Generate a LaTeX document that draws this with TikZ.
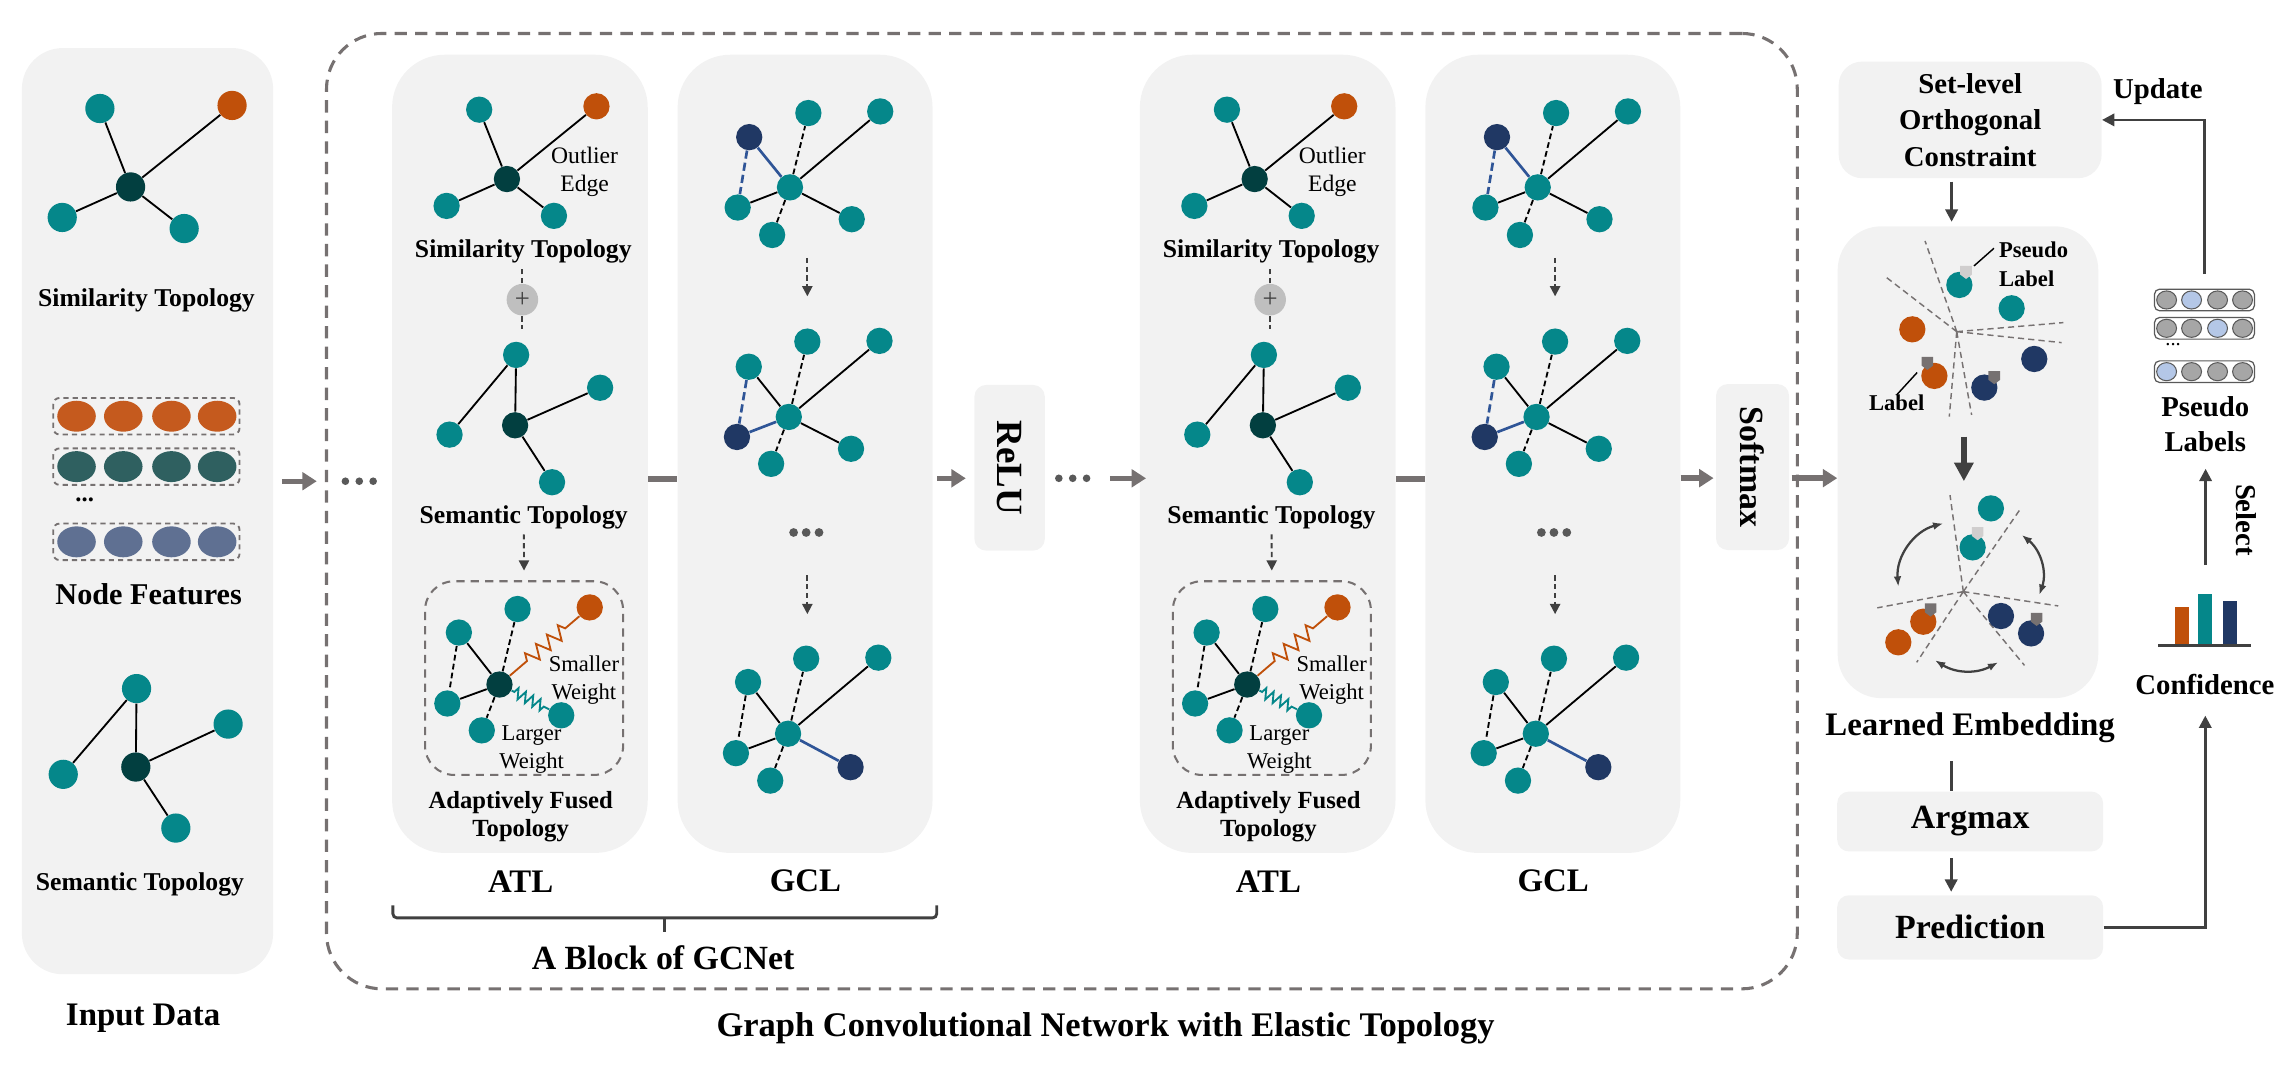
\documentclass[tikz,border=0pt]{standalone}
\usepackage{fontspec}
\setmainfont{Liberation Serif}
\usetikzlibrary{arrows.meta,decorations.pathmorphing,calc}

\definecolor{tealc}{HTML}{05878A}
\definecolor{darkc}{HTML}{023F40}
\definecolor{orangec}{HTML}{C0500A}
\definecolor{navyc}{HTML}{203864}
\definecolor{bluee}{HTML}{2F5597}
\definecolor{panelc}{HTML}{F2F2F2}
\definecolor{dgray}{HTML}{767171}
\definecolor{agray}{HTML}{404040}
\definecolor{pgray}{HTML}{BFBFBF}
\definecolor{dotc}{HTML}{595959}
\definecolor{forange}{HTML}{C55A1E}
\definecolor{fteal}{HTML}{2F6060}
\definecolor{fslate}{HTML}{5F7092}
\definecolor{lblue}{HTML}{B4C7E7}
\definecolor{cgray}{HTML}{A6A6A6}
\definecolor{lmark}{HTML}{D0CECE}

\newcommand\fsz[2]{\fontsize{#1}{#2}\selectfont}

\tikzset{
  gnode/.style={circle, inner sep=0pt, minimum size=0.45cm},
  tnode/.style={gnode, fill=tealc},
  cnode/.style={gnode, fill=darkc},
  onode/.style={gnode, fill=orangec},
  nnode/.style={gnode, fill=navyc},
  eline/.style={line width=0.9pt},
  dline/.style={line width=0.9pt, dash pattern=on 2.8pt off 1.6pt},
  bline/.style={line width=1.3pt, bluee},
  bdline/.style={line width=1.3pt, bluee, dash pattern=on 4pt off 2pt},
  zig/.style={line width=0.9pt, decorate},
  panel/.style={fill=panelc, rounded corners=0.9cm, inner sep=0pt},
  rbox/.style={fill=panelc, rounded corners=0.2cm, inner sep=0pt},
  fusebox/.style={draw=dgray, line width=1pt, dash pattern=on 4pt off 3pt, rounded corners=0.5cm, inner sep=0pt},
  tlab/.style={font=\bfseries\fsz{12.5}{15}, inner sep=0pt},
  blab/.style={font=\bfseries\fsz{16}{19}, inner sep=0pt},
  rlab/.style={font=\bfseries\fsz{14}{17.5}, inner sep=0pt, align=center},
  garrow/.style={line width=2.6pt, dgray, -{Triangle[length=7pt,width=8.5pt]}},
  gline/.style={line width=2.6pt, dgray},
  darrow/.style={line width=1.3pt, agray, -{Triangle[length=6pt,width=6pt]}},
  dsarrow/.style={line width=0.9pt, agray, dash pattern=on 2.5pt off 1.8pt, -{Triangle[length=5pt,width=5pt]}},
  sdash/.style={line width=0.7pt, dgray, dash pattern=on 3pt off 2pt},
  carrow/.style={line width=1.1pt, agray, {Latex[length=5pt]}-{Latex[length=5pt]}},
  leader/.style={line width=0.7pt, black},
  pcirc/.style={draw=dotc, line width=0.5pt},
  prow/.style={draw=dotc, fill=white, line width=0.6pt, rounded corners=2.5pt, minimum width=1.71cm, minimum height=0.37cm},
  tagm/.pic={\fill[#1] (-4,-4.5) -- (4,-4.5) -- (4,1.5) -- (0,4.5) -- (-4,1.5) -- cycle;}
}

\begin{document}
\begin{tikzpicture}[x=0.025cm, y=-0.025cm]
\useasboundingbox (0,0) rectangle (1568,741);

% input data
\node[panel, rounded corners=0.7cm, minimum width=4.3cm, minimum height=15.85cm] (inp) at (101,350) {};
\node[cnode, minimum size=0.5cm] (ic) at (89.4,128) {};
\node[tnode, minimum size=0.5cm] (ia) at (68.4,74.3) {};
\node[onode, minimum size=0.5cm] (io) at (158.9,72.2) {};
\node[tnode, minimum size=0.5cm] (ib) at (42.6,148.9) {};
\node[tnode, minimum size=0.5cm] (id) at (126.1,156.5) {};
\draw[eline] (ic) -- (ia) (ic) -- (io) (ic) -- (ib) (ic) -- (id);
\node[tlab] (ist) at (100.3,205.5) {Similarity Topology};
\foreach \y/\c in {285/forange, 319.5/fteal, 371/fslate}{
  \draw[dgray, line width=0.9pt, dash pattern=on 2.5pt off 2pt, rounded corners=3pt] (36.5,\y-12.5) rectangle (164,\y+12.5);
  \foreach \x in {52.4,84.4,117.4,148.7}
    \fill[\c] (\x,\y) ellipse (0.33cm and 0.265cm);
}
\node[font=\bfseries\fsz{12}{12}] (idt) at (58,342) {...};
\node[font=\bfseries\fsz{14.7}{17}, inner sep=0pt] (inf) at (101.8,406.6) {Node Features};
\node[cnode, minimum size=0.5cm] (jc) at (93,525.2) {};
\node[tnode, minimum size=0.5cm] (ja) at (93.5,471.5) {};
\node[tnode, minimum size=0.5cm] (jb) at (156.2,495.8) {};
\node[tnode, minimum size=0.5cm] (jd) at (43.3,530.2) {};
\node[tnode, minimum size=0.5cm] (je) at (120.4,567) {};
\draw[eline] (ja) -- (jd) (ja) -- (jc) (jc) -- (jb) (jc) -- (je);
\node[tlab] (iss) at (95.8,605.6) {Semantic Topology};
\node[blab] (ind) at (98,697) {Input Data};

% network
\node[draw=dgray, line width=1.5pt, dash pattern=on 6pt off 4pt, rounded corners=0.95cm, inner sep=0pt,
  minimum width=25.17cm, minimum height=16.35cm] (gcn) at (727.1,350) {};
\node[font=\bfseries\fsz{16.8}{19}, inner sep=0pt] (gtt) at (757,704) {Graph Convolutional Network with Elastic Topology};
\draw[garrow, shorten <=4pt, shorten >=4pt] (inp.east |- 0,329.5) -- (gcn.west |- 0,329.5);
\foreach \x in {236.5,246,255.5} \fill[dotc] (\x,329.5) circle (0.065cm);

\foreach \dx/\k in {0/1,512/2}{
\begin{scope}[shift={(\dx,0)}]
  \node[panel, minimum width=4.375cm, minimum height=13.66cm] (atl\k) at (356,310.75) {};
  \node[panel, minimum width=4.3625cm, minimum height=13.66cm] (gcl\k) at (551.25,310.75) {};
  \draw[gline] (atl\k.east |- 0,328) -- (gcl\k.west |- 0,328);
  % ATL
  \node[cnode] (sc\k) at (347.1,122.6) {};
  \node[tnode] (sa\k) at (328.1,75.1) {};
  \node[onode] (so\k) at (408.4,72.8) {};
  \node[tnode] (sb\k) at (305.8,141) {};
  \node[tnode] (sd\k) at (379.3,147.8) {};
  \draw[eline] (sc\k) -- (sa\k) (sc\k) -- (so\k) (sc\k) -- (sb\k) (sc\k) -- (sd\k);
  \node[font=\fsz{11.5}{13.8}, align=center, inner sep=0pt] (oe\k) at (400.3,117.5) {Outlier\\Edge};
  \node[tlab] (stt\k) at (358.3,172.4) {Similarity Topology};
  \node[circle, fill=pgray, inner sep=0pt, minimum size=0.54cm, text=agray, font=\fsz{13}{13}] (pl\k) at (357.7,205.2) {+};
  \draw[dline, agray] (pl\k.north) -- ++(0,-10);
  \draw[dline, agray] (pl\k.south) -- ++(0,9);
  \node[cnode] (mc\k) at (352.7,291.2) {};
  \node[tnode] (ma\k) at (353.4,243) {};
  \node[tnode] (mb\k) at (410.9,265.5) {};
  \node[tnode] (md\k) at (307.8,297.6) {};
  \node[tnode] (me\k) at (378,330.2) {};
  \draw[eline] (ma\k) -- (md\k) (ma\k) -- (mc\k) (mc\k) -- (mb\k) (mc\k) -- (me\k);
  \node[tlab] (smt\k) at (358.6,354.3) {Semantic Topology};
  \node[fusebox, minimum width=3.39cm, minimum height=3.315cm] (fb\k) at (358.85,464.3) {};
  \draw[dsarrow, shorten <=2.3pt, shorten >=4.7pt] (smt\k) -- (fb\k.north);
  \node[cnode] (fc\k) at (342,468.7) {};
  \node[tnode] (fa\k) at (354.4,417) {};
  \node[onode] (fo\k) at (403.8,415.9) {};
  \node[tnode] (fd\k) at (314.2,433.1) {};
  \node[tnode] (fe\k) at (306.3,481.7) {};
  \node[tnode] (ff\k) at (329.9,500.1) {};
  \node[tnode] (fg\k) at (384.3,489.8) {};
  \draw[eline] (fc\k) -- (fd\k) (fc\k) -- (fe\k);
  \draw[dline] (fc\k) -- (fa\k) (fc\k) -- (ff\k) (fd\k) -- (fe\k);
  \draw[zig, orangec, decoration={zigzag, segment length=7pt, amplitude=3.5pt, pre length=11pt, post length=6pt}] (fc\k) -- (fo\k);
  \draw[zig, tealc, decoration={zigzag, segment length=4pt, amplitude=2.6pt, pre length=1.5pt, post length=2pt}] (fc\k) -- (fg\k);
  \node[font=\fsz{11}{13.5}, align=center, inner sep=0pt] (sw\k) at (399.8,465.5) {Smaller\\Weight};
  \node[font=\fsz{11}{13.5}, align=center, inner sep=0pt] (lw\k) at (364,513.4) {Larger\\Weight};
  \node[font=\bfseries\fsz{12}{13.4}, align=center, inner sep=0pt] (aft\k) at (356.5,559.1) {Adaptively Fused\\Topology};
  \node[blab] (atx\k) at (356.5,604) {ATL};
  % GCL
  \node[tnode] (ac\k) at (540.9,128.3) {};
  \node[nnode] (an\k) at (513,93.9) {};
  \node[tnode] (aa\k) at (553.5,77.4) {};
  \node[tnode] (ab\k) at (602.7,76.3) {};
  \node[tnode] (ad\k) at (505.1,142.1) {};
  \node[tnode] (ae\k) at (528.7,160.9) {};
  \node[tnode] (af\k) at (583.2,150.1) {};
  \draw[bline] (an\k) -- (ac\k);
  \draw[bdline] (an\k) -- (ad\k);
  \draw[eline] (ad\k) -- (ac\k) (ac\k) -- (ab\k) (ac\k) -- (af\k);
  \draw[dline] (ac\k) -- (aa\k) (ac\k) -- (ae\k);
  \coordinate (ua\k) at (552.8,176.5);
  \draw[dsarrow] (ua\k) -- ++(0,26.4);
  \node[tnode] (bc\k) at (540.1,285.5) {};
  \node[tnode] (ba\k) at (552.8,233.9) {};
  \node[tnode] (bb\k) at (602.2,233.4) {};
  \node[tnode] (bd\k) at (512.7,251.1) {};
  \node[nnode] (bn\k) at (504.6,299.2) {};
  \node[tnode] (be\k) at (528,317.6) {};
  \node[tnode] (bf\k) at (582.7,307.3) {};
  \draw[eline] (bd\k) -- (bc\k) (bc\k) -- (bb\k) (bc\k) -- (bf\k);
  \draw[dline] (bc\k) -- (ba\k) (bc\k) -- (be\k);
  \draw[bdline] (bd\k) -- (bn\k);
  \draw[bline] (bn\k) -- (bc\k);
  \foreach \x in {543.4,552,560.8} \fill[dotc] (\x,364.6) circle (0.075cm);
  \coordinate (ub\k) at (552.8,394);
  \draw[dsarrow] (ub\k) -- ++(0,26.5);
  \node[tnode] (cc\k) at (539.6,502.4) {};
  \node[tnode] (ca\k) at (552,451) {};
  \node[tnode] (cb\k) at (601.4,450.3) {};
  \node[tnode] (cd\k) at (512.2,467) {};
  \node[tnode] (ce\k) at (503.9,515.7) {};
  \node[tnode] (cf\k) at (527.4,534.5) {};
  \node[nnode] (cn\k) at (582.4,525.3) {};
  \draw[eline] (cd\k) -- (cc\k) (ce\k) -- (cc\k) (cc\k) -- (cb\k);
  \draw[dline] (cd\k) -- (ce\k) (cc\k) -- (ca\k) (cc\k) -- (cf\k);
  \draw[bline] (cc\k) -- (cn\k);
  \node[blab] (gtx\k) at (551.5,603) {GCL};
\end{scope}
}

\draw[agray, line width=1.4pt, rounded corners=2pt] (269,620) -- (269,628.5) -- (641.4,628.5) -- (641.4,620);
\draw[agray, line width=1.4pt] (454.7,628.5) -- (454.7,638.4);
\node[font=\bfseries\fsz{16.5}{19}, inner sep=0pt] (blk) at (454,656) {A Block of GCNet};

\node[rbox, minimum width=1.205cm, minimum height=2.835cm, font=\bfseries\fsz{18}{20}] (relu) at (691.3,320.3) {\rotatebox{-90}{ReLU}};
\node[rbox, minimum width=1.25cm, minimum height=2.84cm, font=\bfseries\fsz{16.5}{19}] (smx) at (1200,319.8) {\rotatebox{-90}{Softmax}};
\draw[garrow, shorten <=2pt, shorten >=4pt] (gcl1.east |- 0,327.5) -- (relu.west |- 0,327.5);
\foreach \x in {725,734.5,744} \fill[dotc] (\x,327.5) circle (0.065cm);
\coordinate (rd) at (760,327.5);
\draw[garrow] (rd) -- ($(atl2.west |- rd)+(4.5,0)$);
\draw[garrow, shorten >=1pt] (gcl2.east |- 0,327.4) -- (smx.west |- 0,327.4);

% right side
\node[rbox, rounded corners=0.4cm, minimum width=4.5cm, minimum height=1.995cm, font=\bfseries\fsz{14}{17.8}, align=center] (slc) at (1349,82.1) {Set-level\\Orthogonal\\Constraint};
\node[panel, rounded corners=0.75cm, minimum width=4.46cm, minimum height=8.075cm] (le) at (1347.5,316.5) {};
\draw[garrow, shorten <=1pt] (smx.east |- 0,327.4) -- (le.west |- 0,327.4);
\draw[darrow, shorten <=1.5pt, shorten >=2pt] ($(slc.south)+(-12.7,0)$) -- ($(le.north)+(-11.2,0)$);

\coordinate (ka) at (1339.8,227.1);
\draw[sdash] (ka) -- (1318.1,165) (ka) -- (1290,188.7) (ka) -- (1412.8,220.9) (ka) -- (1411.6,234.6) (ka) -- (1334.7,285.3) (ka) -- (1350,284.1);
\node[tnode] (ea) at (1341.6,195.1) {};
\node[tnode] (eb) at (1377.4,211.1) {};
\node[onode] (ec) at (1309.4,225.5) {};
\node[onode] (ed) at (1324.5,257.4) {};
\node[nnode] (ee) at (1392.9,245.8) {};
\node[nnode] (ef) at (1358.7,265.4) {};
\pic at (1346.2,186.5) {tagm=lmark};
\pic at (1319.7,248.8) {tagm=dgray};
\pic at (1365.5,258.6) {tagm=dgray};
\node[font=\bfseries\fsz{11}{14}, align=left, anchor=west, inner sep=0pt] (ptx) at (1368.5,181) {Pseudo\\Label};
\draw[leader] (1365.3,170) -- ++(-13.7,12.1);
\node[font=\bfseries\fsz{11}{13}, inner sep=0pt] (ltx) at (1298.7,276.1) {Label};
\draw[leader] (ltx.north) -- ++(14,-15.3);
\draw[agray, line width=3.2pt, -{Triangle[length=9pt,width=9pt]}] (1344.7,299) -- (1344.7,329.5);

\coordinate (kb) at (1344.3,405.1);
\draw[sdash] (kb) -- (1335.2,339) (kb) -- (1383.1,348.9) (kb) -- (1285.4,416.2) (kb) -- (1409.3,414.9) (kb) -- (1312.4,453.5) (kb) -- (1386.2,455.6);
\node[tnode] (eg) at (1363.2,348.1) {};
\node[tnode] (eh) at (1350.7,374.8) {};
\node[onode] (ei) at (1316.9,425.7) {};
\node[onode] (ej) at (1299.8,439.8) {};
\node[nnode] (ek) at (1370.1,421.8) {};
\node[nnode] (el) at (1390.7,433.7) {};
\pic at (1354.1,365.4) {tagm=lmark};
\pic at (1321.9,417.7) {tagm=dgray};
\pic at (1394.5,424.1) {tagm=dgray};
\draw[carrow] (1299.8,401.7) to[bend left=40] (1330.6,358.4);
\draw[carrow] (1384.3,366.3) to[bend left=35] (1396.4,407.3);
\draw[carrow] (1324.9,452.1) to[bend right=30] (1368.2,453.5);

\node[font=\bfseries\fsz{16}{19}, inner sep=0pt] (lem) at (1349,498) {Learned Embedding};
\node[rbox, minimum width=4.55cm, minimum height=1.025cm, font=\bfseries\fsz{16.5}{19}] (amx) at (1349,562.5) {Argmax};
\node[rbox, minimum width=4.55cm, minimum height=1.1cm, font=\bfseries\fsz{16.5}{19}] (prd) at (1349,635) {Prediction};
\draw[agray, line width=1.3pt, shorten <=9pt] ($(lem.south)+(-13,0)$) -- ($(amx.north)+(-13,0)$);
\draw[darrow, shorten <=3pt, shorten >=1.5pt] ($(amx.south)+(-13,0)$) -- ($(prd.north)+(-13,0)$);
\coordinate (cfa) at (1510,490);
\draw[darrow] (prd.east) -| (cfa);
\node[rlab] (cnf) at (1509.7,468.5) {Confidence};
\fill[orangec] (1489.2,415.9) rectangle (1499,441.5);
\fill[tealc] (1505.2,406.8) rectangle (1514.8,441.5);
\fill[navyc] (1521.8,411.4) rectangle (1531.4,441.5);
\draw[agray, line width=1pt] (1477.8,442) -- (1541,442);
\coordinate (sl0) at (1510.2,387);
\draw[darrow] (sl0) -- ++(0,-66);
\node[font=\bfseries\fsz{14}{16}, inner sep=0pt] (sel) at (1538.3,356) {\rotatebox{-90}{Select}};
\node[font=\bfseries\fsz{14}{17.4}, align=center, inner sep=0pt] (plb) at (1510,290.5) {Pseudo\\Labels};

\node[prow] (pr1) at (1509.4,205.4) {};
\node[prow] (pr2) at (1509.4,224.8) {};
\node[prow] (pr3) at (1509.4,254.5) {};
\foreach \x/\c in {1483.5/cgray,1500.6/lblue,1518.4/cgray,1535.5/cgray} \draw[pcirc, fill=\c] (\x,205.4) ellipse (0.17cm and 0.155cm);
\foreach \x/\c in {1483.5/cgray,1500.6/cgray,1518.4/lblue,1535.5/cgray} \draw[pcirc, fill=\c] (\x,224.8) ellipse (0.17cm and 0.155cm);
\foreach \x/\c in {1483.5/lblue,1500.6/cgray,1518.4/cgray,1535.5/cgray} \draw[pcirc, fill=\c] (\x,254.5) ellipse (0.17cm and 0.155cm);
\node[font=\fsz{10}{10}] (pdt) at (1488,236) {...};
\draw[darrow, shorten <=7pt] (pr1.north) |- (slc.east);
\node[font=\bfseries\fsz{14}{17}, inner sep=0pt] (upd) at (1477.5,62.8) {Update};
\end{tikzpicture}
\end{document}
